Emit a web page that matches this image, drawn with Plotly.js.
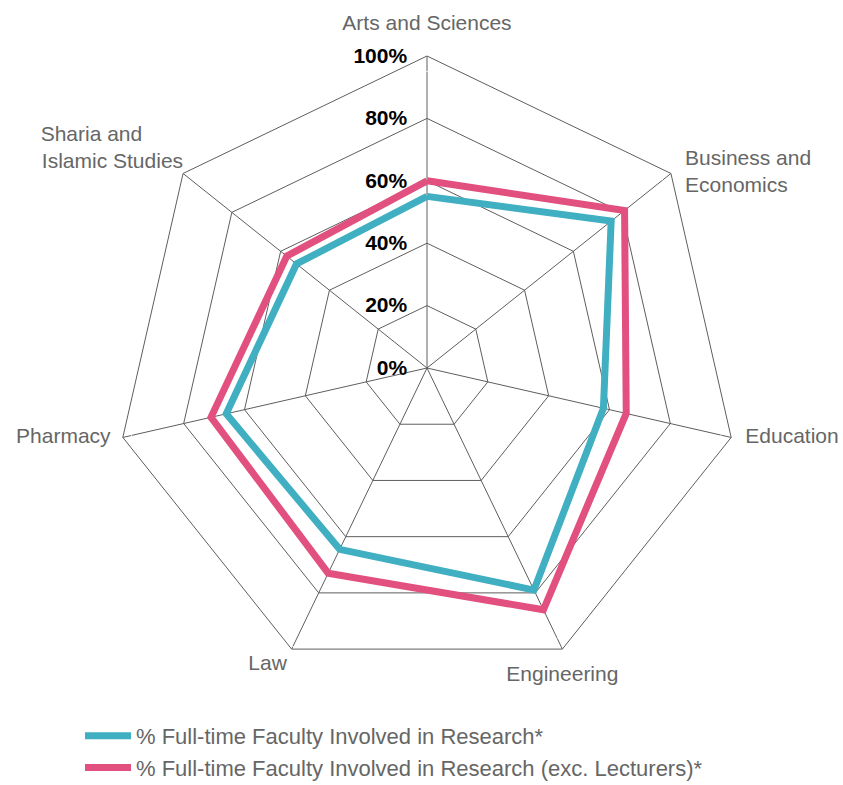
<!DOCTYPE html>
<html>
<head>
<meta charset="utf-8">
<script src="https://cdn.plot.ly/plotly-3.0.1.min.js"></script>
<style>
html,body{margin:0;padding:0;background:#fff;}
#chart{width:843px;height:785px;}
</style>
</head>
<body>
<div id="chart"></div>
<script>
var categories = ["Arts and Sciences", "Business and Economics", "Education", "Engineering", "Law", "Pharmacy", "Sharia and Islamic Studies"];
var categoryLabels = ["Arts and Sciences", "Business and<br>Economics", "Education", "Engineering", "Law", "Pharmacy", "Sharia and\u00A0\u00A0\u00A0\u00A0\u00A0\u00A0\u00A0<br>Islamic Studies"];
var seriesNames = ["% Full-time Faculty Involved in Research*", "% Full-time Faculty Involved in Research (exc. Lecturers)*"];
var facultyResearch = [55, 75.5, 58, 79, 64.5, 66, 53.5];
var facultyResearchExcLecturers = [60, 81, 65.5, 86, 73, 71, 57.5];
var radialTicks = [0, 20, 40, 60, 80, 100];
var radialTickLabels = ["0%", "20%", "40%", "60%", "80%", "100%"];

// label placement (layout only): labels sit on the outer ring, pushed out by an invisible marker
var labelPositions = ["top center", "middle right", "middle right", "bottom center", "bottom left", "middle left", "top left"];
var labelPads = [31, 21, 21, 24, 6, 18, 0];

function closed(arr){ return arr.concat([arr[0]]); }

var traces = [
  {
    type: "scatterpolar",
    mode: "lines",
    name: seriesNames[0],
    legendgroup: "a",
    r: closed(facultyResearch),
    theta: closed(categories),
    line: {color: "#41AFC2", width: 7},
    hoverinfo: "skip"
  },
  {
    type: "scatterpolar",
    mode: "lines",
    name: seriesNames[1],
    legendgroup: "b",
    r: closed(facultyResearchExcLecturers),
    theta: closed(categories),
    line: {color: "#E1507F", width: 7},
    hoverinfo: "skip"
  },
  {
    type: "scatterpolar",
    mode: "markers+text",
    showlegend: false,
    cliponaxis: false,
    r: categories.map(function(){ return 100; }),
    theta: categories,
    text: categoryLabels,
    textposition: labelPositions,
    marker: {size: labelPads, color: "rgba(0,0,0,0)"},
    textfont: {size: 21, color: "#666", family: "Liberation Sans, Arial, sans-serif"},
    hoverinfo: "skip"
  }
];

var layout = {
  width: 843,
  height: 785,
  margin: {l: 0, r: 0, t: 0, b: 0, autoexpand: false},
  paper_bgcolor: "#fff",
  plot_bgcolor: "#fff",
  font: {family: "Liberation Sans, Arial, sans-serif", color: "#666", size: 18},
  showlegend: true,
  legend: {
    x: 80/843, y: 1 - 715/785, xanchor: "left", yanchor: "top",
    orientation: "v",
    font: {size: 22, color: "#666"},
    tracegroupgap: 0,
    itemwidth: 46
  },
  polar: {
    domain: {x: [115/843, 739/843], y: [1 - 680/785, 1 - 56/785]},
    gridshape: "linear",
    bgcolor: "#fff",
    angularaxis: {
      direction: "clockwise",
      rotation: 90,
      categoryorder: "array",
      categoryarray: categories,
      showline: true,
      linecolor: "#5e5e5e",
      linewidth: 1,
      gridcolor: "#5e5e5e",
      gridwidth: 1,
      ticks: "",
      showticklabels: false
    },
    radialaxis: {
      range: [0, 100],
      angle: 90,
      tickangle: 90,
      tickvals: radialTicks,
      ticktext: radialTickLabels,
      showline: false,
      gridcolor: "#5e5e5e",
      gridwidth: 1,
      ticks: "outside",
      ticklen: 12,
      tickcolor: "rgba(0,0,0,0)",
      side: "counterclockwise",
      tickfont: {size: 21, color: "#000", weight: "bold"}
    }
  }
};

Plotly.newPlot("chart", traces, layout, {displayModeBar: false, staticPlot: true});
</script>
</body>
</html>
